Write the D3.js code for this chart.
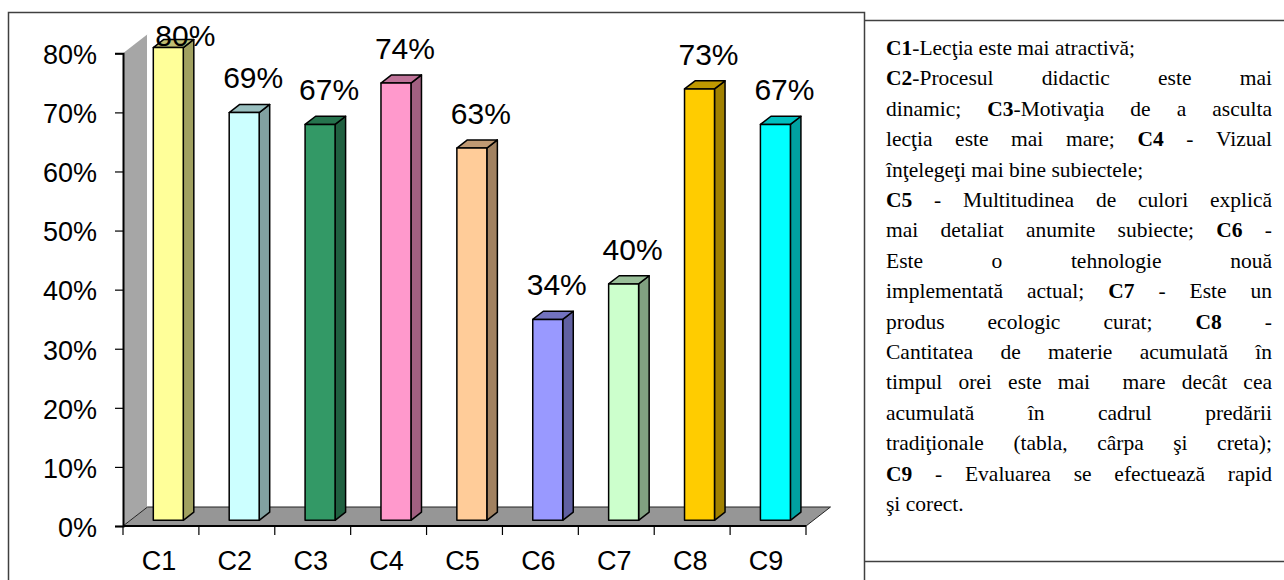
<!DOCTYPE html>
<html><head><meta charset="utf-8">
<script src="https://cdn.jsdelivr.net/npm/d3@7"></script>
<style>body{margin:0;background:#fff}svg{display:block}</style>
</head><body>
<svg id="c" width="1284" height="580"></svg>
<script>
const categories = ["C1","C2","C3","C4","C5","C6","C7","C8","C9"];
const values = [0.80,0.69,0.67,0.74,0.63,0.34,0.40,0.73,0.67];
const barColors = ["#FFFF99","#CCFFFF","#339966","#FF99CC","#FFCC99","#9999FF","#CCFFCC","#FFCC00","#00FFFF"];
const yTicks = [0,0.1,0.2,0.3,0.4,0.5,0.6,0.7,0.8];
const legendLines = [
  {t:"**C1**-Lecţia este mai atractivă;", j:false},
  {t:"**C2**-Procesul didactic este mai", j:true},
  {t:"dinamic; **C3**-Motivaţia de a asculta", j:true},
  {t:"lecţia este mai mare; **C4** - Vizual", j:true},
  {t:"înţelegeţi mai bine subiectele;", j:false},
  {t:"**C5** - Multitudinea de culori explică", j:true},
  {t:"mai detaliat anumite subiecte; **C6** -", j:true},
  {t:"Este o tehnologie nouă", j:true},
  {t:"implementată actual; **C7** - Este un", j:true},
  {t:"produs ecologic curat; **C8** -", j:true},
  {t:"Cantitatea de materie acumulată în", j:true},
  {t:"timpul orei este mai  mare decât cea", j:true},
  {t:"acumulată în cadrul predării", j:true},
  {t:"tradiţionale (tabla, cârpa şi creta);", j:true},
  {t:"**C9** - Evaluarea se efectuează rapid", j:true},
  {t:"şi corect.", j:false}
];

const svg = d3.select("#c");
const sans = '"Liberation Sans", Arial, sans-serif';

// frames
svg.append("path").attr("d","M8.5,582 V12.5 H864.5 V582").attr("fill","none").attr("stroke","#404040").attr("stroke-width",1.5);
svg.append("line").attr("x1",864.5).attr("x2",1284).attr("y1",20.5).attr("y2",20.5).attr("stroke","#404040").attr("stroke-width",1.5);
svg.append("line").attr("x1",864.5).attr("x2",1284).attr("y1",561.5).attr("y2",561.5).attr("stroke","#404040").attr("stroke-width",1.5);

// scales
const x = d3.scaleBand().domain(categories).range([123, 806]).padding(0);
const y = d3.scaleLinear().domain([0, 0.8]).range([526, 53.3]);
const DX = 24.5, DY = -19;
const d0 = 0.3, d1 = 0.73;

const g = svg.append("g");
const y0 = y(0), yTop = y(0.8);
// back wall
g.append("polygon")
  .attr("points", [[123,y0],[123,yTop],[123+DX,yTop+DY],[123+DX,y0+DY]].map(p=>p.join(",")).join(" "))
  .attr("fill","#a6a6a6");
g.append("line").attr("x1",123+DX).attr("x2",123+DX).attr("y1",yTop+DY).attr("y2",y0+DY).attr("stroke","#fff").attr("stroke-width",1);
// floor
const xEnd = x.range()[1];
g.append("polygon")
  .attr("points", [[123,y0],[123+DX,y0+DY],[xEnd+DX,y0+DY],[xEnd,y0]].map(p=>p.join(",")).join(" "))
  .attr("fill","#969696").attr("stroke","#222").attr("stroke-width",1).attr("stroke-linejoin","round");
g.append("line").attr("x1",123).attr("x2",xEnd).attr("y1",y0).attr("y2",y0).attr("stroke","#000").attr("stroke-width",2);

// y axis
const yAxis = d3.axisLeft(y).tickValues(yTicks).tickFormat(d3.format(".0%")).tickSize(8).tickPadding(18);
const ya = svg.append("g").attr("transform","translate(123,0)").call(yAxis);
ya.select(".domain").attr("stroke","#000").attr("stroke-width",2);
ya.selectAll(".tick line").attr("stroke","#000").attr("stroke-width",1.2);
ya.selectAll(".tick text").style("font-family",sans).attr("font-size",27).attr("fill","#000").attr("dy","0.38em");

// x axis ticks at band boundaries
const bounds = categories.map(c => x(c)).concat([xEnd]);
svg.selectAll("line.xt").data(bounds).enter().append("line")
  .attr("x1",d=>d).attr("x2",d=>d).attr("y1",y0).attr("y2",y0+9)
  .attr("stroke","#000").attr("stroke-width",1.2);
svg.selectAll("text.xl").data(categories).enter().append("text")
  .attr("x",c=>x(c)+x.bandwidth()/2-2).attr("y",570)
  .attr("text-anchor","middle").style("font-family",sans).attr("font-size",27).text(c=>c);

// bars
const bw = x.bandwidth()*0.395;
const sdx = DX*(d1-d0), sdy = DY*(d1-d0);
const shade = (c,k) => { const r = d3.rgb(c); return d3.rgb(r.r*k, r.g*k, r.b*k).formatHex(); };
const bars = svg.append("g").selectAll("g").data(categories).enter().append("g");
bars.each(function(c,i){
  const gg = d3.select(this);
  const fx = x(c) + (x.bandwidth()-bw)/2 + DX*d0;
  const fb = y(0) + DY*d0;
  const ft = y(values[i]) + DY*d0;
  const col = barColors[i];
  const pts = a => a.map(p=>p.join(",")).join(" ");
  gg.append("polygon").attr("points", pts([[fx+bw,ft],[fx+bw+sdx,ft+sdy],[fx+bw+sdx,fb+sdy],[fx+bw,fb]]))
    .attr("fill", shade(col,0.63));
  gg.append("polygon").attr("points", pts([[fx,ft],[fx+sdx,ft+sdy],[fx+bw+sdx,ft+sdy],[fx+bw,ft]]))
    .attr("fill", shade(col,0.75));
  gg.append("rect").attr("x",fx).attr("y",ft).attr("width",bw).attr("height",fb-ft).attr("fill",col);
  gg.selectAll("polygon,rect").attr("stroke","#000").attr("stroke-width",1.5).attr("stroke-linejoin","round");
  const lbY = y(values[i]) - 30;
  gg.append("text").attr("x", fx+bw/2+ (lbY < 46 ? 17 : 9)).attr("y", Math.max(lbY, 46))
    .attr("text-anchor","middle").style("font-family",sans).attr("font-size",30)
    .text(d3.format(".0%")(values[i]));
});

// legend text, justified; each run is its own <text>, drawn at 24px and scaled
const LX = 886, LR = 1272, LW = LR-LX, base0 = 55, lh = 30.4, fs = 21.5;
const k = fs/24;
const lg = svg.append("g").attr("transform",`scale(${k})`).attr("fill","#000");
const mk = (s,b) => lg.append("text").style("font-family",'"Liberation Serif"').attr("font-size",24)
  .style("font-weight", b ? "bold" : "normal").text(s);
const sp = mk("a a",false); const spw = sp.node().getComputedTextLength();
const aw = mk("aa",false); const sw = (spw - aw.node().getComputedTextLength())*k;
sp.remove(); aw.remove();
legendLines.forEach((ln,li)=>{
  let bold = false; const words = [];
  ln.t.split(" ").forEach(w=>{
    const runs = []; const parts = w.split("**");
    parts.forEach((p,kk)=>{ if(kk>0) bold = !bold; if(p.length) runs.push({t:p,b:bold}); });
    words.push(runs);
  });
  const yy = base0 + li*lh;
  const wordEls = words.map(runs => runs.map(r => {
    const t = mk(r.t, r.b).attr("y", yy/k);
    return {el:t, w:t.node().getComputedTextLength()*k};
  }));
  const widths = wordEls.map(a => d3.sum(a, d=>d.w));
  const total = d3.sum(widths);
  const gap = (ln.j && words.length>1) ? (LW-total)/(words.length-1) : sw;
  let cx = LX;
  wordEls.forEach((a,wi)=>{
    let rx = cx;
    a.forEach(d=>{ d.el.attr("x", rx/k); rx += d.w; });
    cx += widths[wi] + gap;
  });
});
</script>
</body></html>
